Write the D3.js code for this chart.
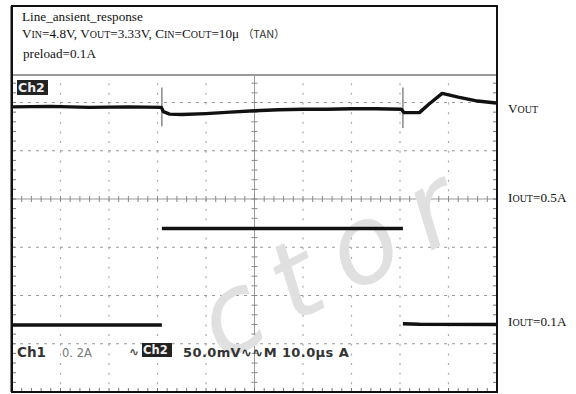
<!DOCTYPE html>
<html>
<head>
<meta charset="utf-8">
<script src="https://cdn.jsdelivr.net/npm/d3@7"></script>
<style>
  body { margin: 0; background: #fff; }
  svg { display: block; }
</style>
</head>
<body>
<svg id="chart" width="576" height="394"></svg>
<script>
// Time axis (us) and vertical divisions
const timeDomain = [0, 100];
const divDomain = [-4, 4];

// Ch2: Vout deviation in mV (50 mV/div), reference 1.91 div above centre
const ch2Time = [0, 8, 16, 24, 30.8, 31.2, 32.5, 35, 40, 45, 50, 55, 60, 65, 70, 75, 80.3, 80.8, 84, 86, 88.7, 92, 96, 99.8];
const ch2mV   = [0, 0.5, -0.5, 0, -0.5, -5, -7.5, -8, -7, -5.5, -4, -3, -2.5, -2.5, -2, -2, -2.5, -6, -6, 3, 14, 10, 6, 4];
const ch2Offset = 1.91;
const ch2Scale = 50;

// Ch1: Iout in A (0.2 A/div), zero level 3.11 div below centre
const ch1Time = [0, 30.9, null, 30.9, 80.6, null, 80.6, 84, 99.8];
const ch1Amp  = [0.1, 0.1, null, 0.5, 0.5, null, 0.105, 0.103, 0.102];
const ch1Offset = -3.11;
const ch1Scale = 0.2;

// Switching glitches seen on Ch2 (time, top mV, bottom mV)
const spikes = [[30.9, 20, -20], [80.6, 20, -22]];

const svg = d3.select("#chart");
const x = d3.scaleLinear().domain(timeDomain).range([12, 497]);
const y = d3.scaleLinear().domain(divDomain).range([392, 6]);
const yCh2 = v => y(ch2Offset + v / ch2Scale);
const yCh1 = a => y(ch1Offset + a / ch1Scale);

// grid
const grid = svg.append("g");
const xDivs = d3.range(1, 10).filter(d => d !== 5).map(d => d * 10);
const yDivs = d3.range(-3, 4).filter(d => d !== 0);
grid.selectAll(".vg").data(xDivs).enter().append("line")
  .attr("x1", d => x(d)).attr("x2", d => x(d))
  .attr("y1", y(4)).attr("y2", y(-4))
  .style("stroke", "#aaa").style("stroke-width", 1.2)
  .style("stroke-dasharray", "2 7.65");
grid.selectAll(".hg").data(yDivs).enter().append("line")
  .attr("x1", x(0)).attr("x2", x(100))
  .attr("y1", d => y(d)).attr("y2", d => y(d))
  .style("stroke", "#999").style("stroke-width", 1.2)
  .style("stroke-dasharray", "3 5");

// centre axes with minor ticks
grid.append("line").attr("x1", x(50)).attr("x2", x(50)).attr("y1", y(4)).attr("y2", y(-4))
  .style("stroke", "#999").style("stroke-width", 1);
grid.append("line").attr("x1", x(0)).attr("x2", x(100)).attr("y1", y(0)).attr("y2", y(0))
  .style("stroke", "#999").style("stroke-width", 1);
const xMinor = d3.range(0, 101, 2);
const yMinor = d3.range(-4, 4.01, 0.2);
grid.selectAll(".xt").data(xMinor).enter().append("line")
  .attr("x1", d => x(d)).attr("x2", d => x(d))
  .attr("y1", y(0) - 3).attr("y2", y(0) + 3)
  .style("stroke", "#888");
grid.selectAll(".yt").data(yMinor).enter().append("line")
  .attr("x1", x(50) - 3).attr("x2", x(50) + 3)
  .attr("y1", d => y(d)).attr("y2", d => y(d))
  .style("stroke", "#888");
// edge ticks
grid.selectAll(".bt").data(xMinor).enter().append("line")
  .attr("x1", d => x(d)).attr("x2", d => x(d))
  .attr("y1", y(-4)).attr("y2", y(-4) - 4)
  .style("stroke", "#777");
grid.selectAll(".tt").data(xMinor).enter().append("line")
  .attr("x1", d => x(d)).attr("x2", d => x(d))
  .attr("y1", y(4)).attr("y2", y(4) + 4)
  .style("stroke", "#777");
grid.selectAll(".lt").data(yMinor).enter().append("line")
  .attr("x1", x(0)).attr("x2", x(0) + 4)
  .attr("y1", d => y(d)).attr("y2", d => y(d))
  .style("stroke", "#777");
grid.selectAll(".rt").data(yMinor).enter().append("line")
  .attr("x1", x(100)).attr("x2", x(100) - 4)
  .attr("y1", d => y(d)).attr("y2", d => y(d))
  .style("stroke", "#777");

// annotation box at top
svg.append("rect").attr("x", x(0)).attr("y", y(4)).attr("width", x(100) - x(0)).attr("height", 75 - y(4))
  .style("fill", "#fff");
svg.append("line").attr("x1", x(0)).attr("x2", x(100)).attr("y1", 75).attr("y2", 75)
  .style("stroke", "#999").style("stroke-width", 2);

// watermark
svg.append("text")
  .attr("transform", "translate(222,362) rotate(-28)")
  .text("ctor")
  .style("font-family", "DejaVu Sans")
  .style("font-style", "italic")
  .style("font-size", "108px")
  .style("letter-spacing", "22px")
  .style("fill", "#e0e0e0");

// spikes
svg.selectAll(".spike").data(spikes).enter().append("line")
  .attr("x1", d => x(d[0])).attr("x2", d => x(d[0]))
  .attr("y1", d => yCh2(d[1])).attr("y2", d => yCh2(d[2]))
  .style("stroke", "#888").style("stroke-width", 1.5);

// traces
const ch2Data = ch2Time.map((t, i) => ({ t, v: ch2mV[i] }));
const ch1Data = ch1Time.map((t, i) => ({ t, v: ch1Amp[i] }));
svg.append("path").datum(ch2Data)
  .attr("d", d3.line().x(d => x(d.t)).y(d => yCh2(d.v)))
  .style("fill", "none").style("stroke", "#111").style("stroke-width", 3.4)
  .style("stroke-linejoin", "round");
svg.append("path").datum(ch1Data)
  .attr("d", d3.line().defined(d => d.t !== null).x(d => x(d.t)).y(d => yCh1(d.v)))
  .style("fill", "none").style("stroke", "#111").style("stroke-width", 3.4);

// frame
svg.append("rect").attr("x", x(0)).attr("y", y(4)).attr("width", x(100) - x(0)).attr("height", y(-4) - y(4))
  .style("fill", "none").style("stroke", "#111").style("stroke-width", 2);
svg.append("line").attr("x1", x(0) - 0.5).attr("x2", x(0) - 0.5).attr("y1", y(4)).attr("y2", y(-4))
  .style("stroke", "#111").style("stroke-width", 2);

// annotation text
const serif = "'Liberation Serif', 'Times New Roman', serif";
const ann = svg.append("g").style("font-family", serif).style("fill", "#111");
ann.append("text").attr("x", 22).attr("y", 21).style("font-size", "13.2px").text("Line_ansient_response");
const l2 = ann.append("text").attr("x", 22).attr("y", 38).style("font-size", "13.2px");
const sub = (t) => l2.append("tspan").style("font-size", "10px").text(t);
l2.append("tspan").text("V"); sub("IN");
l2.append("tspan").text("=4.8V, V"); sub("OUT");
l2.append("tspan").text("=3.33V, C"); sub("IN");
l2.append("tspan").text("=C"); sub("OUT");
l2.append("tspan").text("=10μ ");
l2.append("tspan").style("font-family", "'Noto Sans CJK SC'").style("font-size", "11px").style("fill", "#333").text("（TAN）");
ann.append("text").attr("x", 23).attr("y", 58).style("font-size", "13.2px").text("preload=0.1A");

// right side labels
const rightLabels = [
  { main: "V", sub: "OUT", rest: "", v: 113 },
  { main: "I", sub: "OUT", rest: "=0.5A", v: 202 },
  { main: "I", sub: "OUT", rest: "=0.1A", v: 326 }
];
const rl = svg.selectAll(".rl").data(rightLabels).enter().append("text")
  .attr("x", 508).attr("y", d => d.v)
  .style("font-family", serif).style("font-size", "13.2px").style("fill", "#111");
rl.append("tspan").text(d => d.main);
rl.append("tspan").style("font-size", "10px").text(d => d.sub);
rl.append("tspan").text(d => d.rest);

// scope labels
const mono = "'DejaVu Sans', sans-serif";
svg.append("rect").attr("x", 17).attr("y", 80).attr("width", 31).attr("height", 15).style("fill", "#222");
svg.append("text").attr("x", 18).attr("y", 92).style("font-family", mono).style("font-weight", "bold")
  .style("font-size", "12.5px").style("fill", "#eee").text("Ch2");

svg.append("text").attr("x", 17).attr("y", 357).style("font-family", mono).style("font-weight", "bold")
  .style("font-size", "13.5px").style("fill", "#333").text("Ch1");
svg.append("text").attr("x", 62).attr("y", 357).style("font-family", mono)
  .style("font-size", "11.5px").style("fill", "#777").text("0. 2A");
svg.append("text").attr("x", 129).attr("y", 356).style("font-family", mono).style("font-weight", "bold")
  .style("font-size", "12px").style("fill", "#555").text("∿");
svg.append("rect").attr("x", 142).attr("y", 343).attr("width", 30).attr("height", 14).style("fill", "#222");
svg.append("text").attr("x", 143).attr("y", 354).style("font-family", mono).style("font-weight", "bold")
  .style("font-size", "11.5px").style("fill", "#eee").text("Ch2");
svg.append("text").attr("x", 183).attr("y", 357).style("font-family", mono).style("font-weight", "bold")
  .style("font-size", "13px").style("letter-spacing", "0.4px").style("fill", "#333").text("50.0mV∿∿M 10.0μs  A");
</script>
</body>
</html>
